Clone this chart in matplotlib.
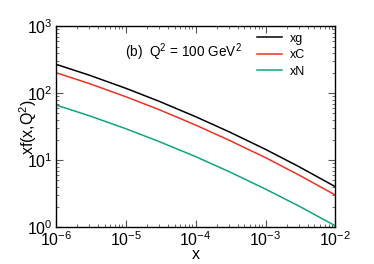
import matplotlib
matplotlib.use("Agg")
from matplotlib import pyplot as plt
from matplotlib.ticker import LogLocator, NullFormatter

plt.rcParams['font.family'] = ['Liberation Sans', 'DejaVu Sans']
plt.rcParams['mathtext.fontset'] = 'custom'
plt.rcParams['mathtext.rm'] = 'Liberation Sans'

x = [1e-6, 3e-6, 1e-5, 3e-5, 1e-4, 3e-4, 1e-3, 3e-3, 1e-2]
xg = [272, 187, 119, 76, 44.7, 26.6, 14.5, 8.0, 4.0]
xC = [204, 140, 89, 57, 33.5, 19.9, 10.9, 6.0, 3.0]
xN = [67, 46.2, 29.6, 19.0, 11.3, 6.75, 3.69, 2.06, 1.04]

fig = plt.figure(figsize=(3.74, 2.64), dpi=100)
ax = fig.add_axes([0.149, 0.140, 0.748, 0.760])

ax.plot(x, xg, color='black', lw=1.1, label='xg')
ax.plot(x, xC, color='#ee3124', lw=1.1, label='xC')
ax.plot(x, xN, color='#12a37e', lw=1.1, label='xN')

ax.set_xscale('log')
ax.set_yscale('log')
ax.set_xlim(1e-6, 1e-2)
ax.set_ylim(1, 1e3)
ax.xaxis.set_minor_locator(LogLocator(base=10, subs=range(2, 10), numticks=20))
ax.yaxis.set_minor_locator(LogLocator(base=10, subs=range(2, 10), numticks=20))
ax.xaxis.set_minor_formatter(NullFormatter())
ax.yaxis.set_minor_formatter(NullFormatter())
ax.tick_params(which='both', direction='in', top=True, right=True, color='#555555')
ax.tick_params(which='major', length=5, labelsize=11.5, pad=2)
ax.tick_params(which='minor', length=2.5)
for s in ax.spines.values():
    s.set_linewidth(1.0)

ax.set_xlabel('x', fontsize=11.5, labelpad=-1)
ax.set_ylabel('xf(x,Q$^2$)', fontsize=11.5)
ax.yaxis.set_label_coords(-0.06, 0.5)
ax.text(0.248, 0.848, '(b)  Q$^2$ = 100 GeV$^2$', transform=ax.transAxes,
        fontsize=9.8, va='baseline')
ax.legend(loc='upper left', bbox_to_anchor=(0.719, 0.968), frameon=False,
          fontsize=9, handlelength=2.0, borderaxespad=0, borderpad=0,
          labelspacing=0.36, handletextpad=0.65)

plt.savefig('out.png', dpi=100)
